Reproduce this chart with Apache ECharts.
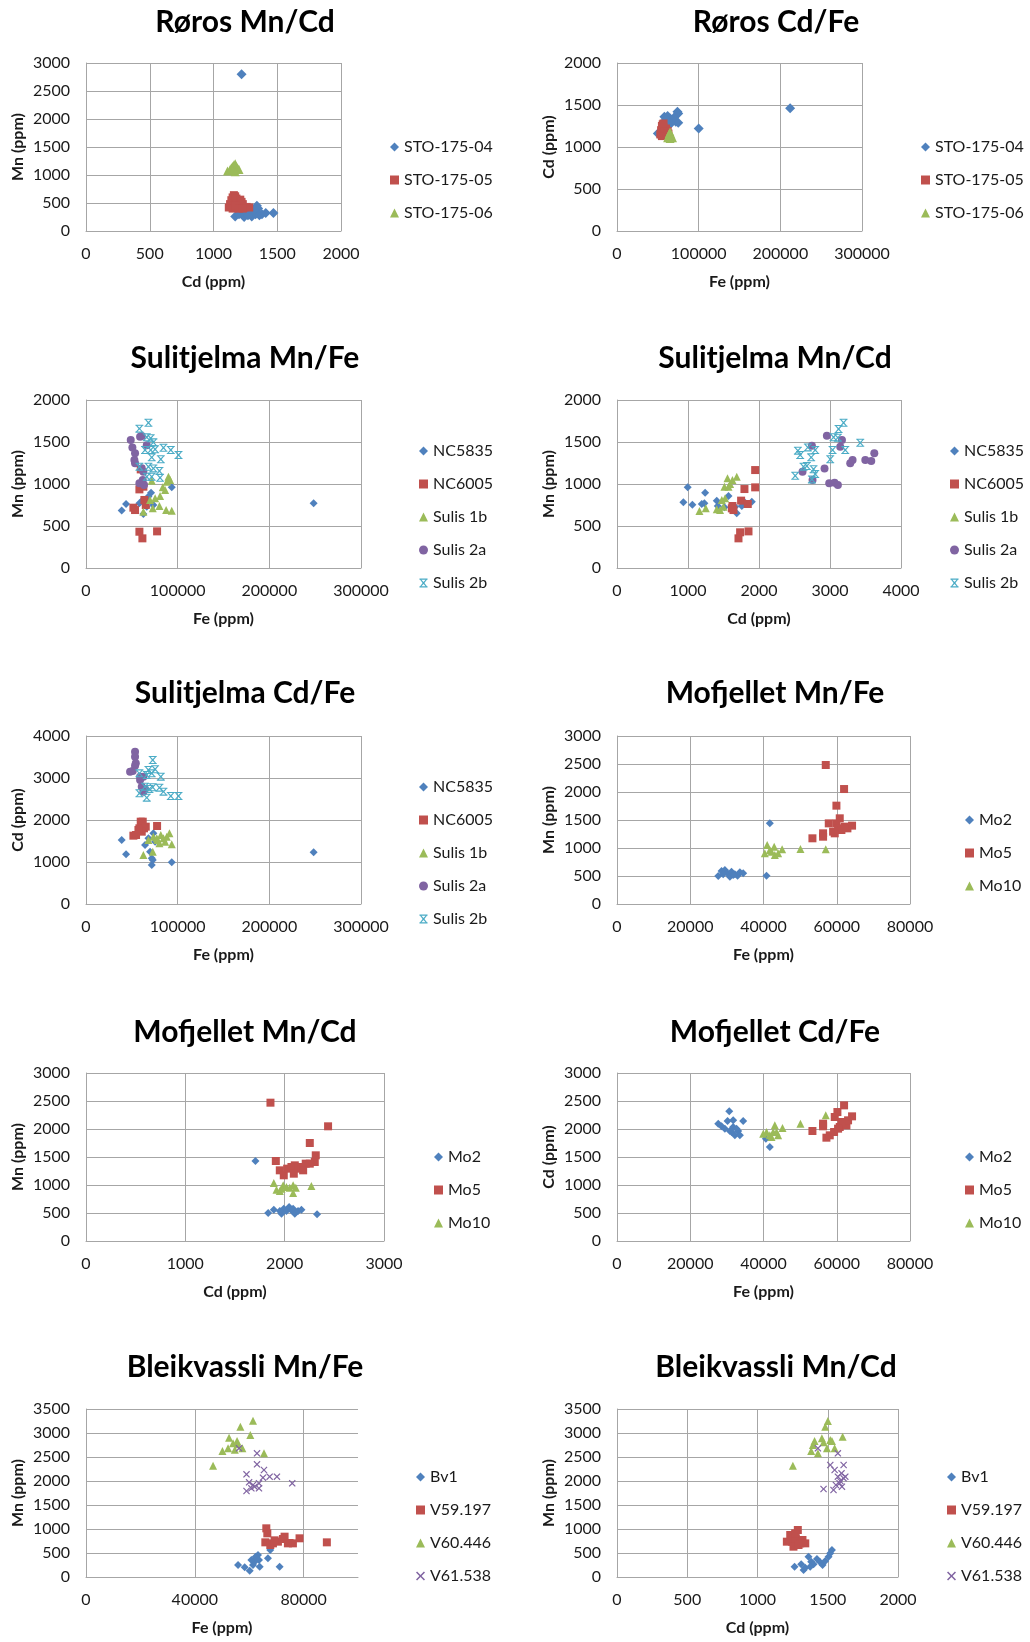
<!DOCTYPE html>
<html><head><meta charset="utf-8">
<script src="https://cdn.jsdelivr.net/npm/echarts@6/dist/echarts.min.js"></script>
<style>html,body{margin:0;padding:0;background:#fff}#c{width:1030px;height:1642px}</style>
</head><body><div id="c"></div>
<script>
// ---------- DATA ----------
// Røros Mn/Cd  [Cd, Mn]
const rorosMnCd_04 = [[1220,2800],[1170,260],[1240,250],[1300,260],[1330,300],[1340,450],[1350,400],[1360,280],[1410,320],[1470,320],[1250,330],[1290,350],[1320,380],[1200,300],[1380,300],[1270,280]];
const rorosMnCd_05 = [[1120,420],[1130,480],[1140,550],[1150,600],[1160,640],[1170,620],[1180,580],[1190,500],[1200,450],[1210,560],[1220,520],[1230,480],[1240,420],[1260,430],[1280,420],[1150,400],[1170,450],[1200,400],[1230,400]];
const rorosMnCd_06 = [[1110,1070],[1130,1100],[1140,1130],[1150,1150],[1160,1180],[1170,1200],[1180,1150],[1190,1120],[1200,1100],[1150,1080],[1170,1060]];
// Røros Cd/Fe  [Fe, Cd]
const rorosCdFe_04 = [[212000,1460],[100000,1220],[50000,1160],[58000,1360],[62000,1370],[65000,1340],[68000,1320],[72000,1300],[74000,1420],[75000,1400],[75000,1290],[70000,1350],[60000,1330],[66000,1280]];
const rorosCdFe_05 = [[53000,1150],[54000,1200],[55000,1250],[56000,1270],[57000,1230],[58000,1180],[59000,1140],[60000,1220],[62000,1190],[63000,1160],[55000,1130],[57000,1280]];
const rorosCdFe_06 = [[62000,1110],[63000,1130],[64000,1160],[65000,1180],[66000,1150],[67000,1120],[68000,1110],[65000,1100]];
// Sulitjelma Mn/Fe  [Fe, Mn]
const sulMnFe_NC5835 = [[38960,686],[43700,762],[248300,770],[58260,770],[62600,643],[66270,730],[71000,897],[73500,750],[93570,960],[61900,810],[68100,850]];
const sulMnFe_NC6005 = [[51700,718],[53500,690],[58260,432],[61530,353],[77550,436],[58260,936],[59700,1174],[63700,810],[65200,750],[62600,968]];
const sulMnFe_1b = [[62600,670],[69900,810],[72800,710],[75400,830],[80100,738],[80800,857],[83700,960],[86300,928],[88100,1028],[89900,1087],[87400,690],[93570,682],[71700,1040],[91750,1048]];
const sulMnFe_2a = [[48800,1524],[50600,1436],[53500,1365],[52800,1286],[53500,1246],[59000,1563],[60800,1571],[66270,1460],[60800,1187],[62600,1147],[58260,1008],[61900,1048],[63300,988]];
const sulMnFe_2b = [[58260,1659],[68100,1730],[66270,1556],[70600,1544],[73500,1496],[64400,1405],[70600,1405],[75400,1413],[84500,1432],[92500,1405],[100900,1345],[71700,1317],[81600,1294],[68100,1206],[73500,1186],[80100,1155],[66270,1087],[71700,1087],[80800,1075],[58260,1206]];
// Sulitjelma Mn/Cd  [Cd, Mn]
const sulMnCd_NC5835 = [[935,782],[996,960],[1062,754],[1194,762],[1231,770],[1241,897],[1405,802],[1419,738],[1570,857],[1513,722],[1687,651],[1758,738],[1899,790],[1805,778],[1664,730]];
const sulMnCd_NC6005 = [[1617,710],[1640,690],[1711,353],[1734,425],[1852,436],[1748,802],[1795,940],[1842,762],[1946,960],[1946,1166],[1626,738]];
const sulMnCd_1b = [[1161,679],[1250,710],[1405,698],[1452,690],[1499,730],[1523,829],[1513,968],[1556,1067],[1593,1000],[1626,1048],[1687,1087],[1476,810],[1570,968]];
const sulMnCd_2a = [[2613,1147],[2745,1456],[2754,1048],[2923,1186],[2956,1575],[2989,1008],[3064,1016],[3111,988],[3168,1524],[3144,1444],[3285,1246],[3318,1286],[3497,1286],[3581,1274],[3624,1365]];
const sulMnCd_2b = [[2510,1099],[2548,1397],[2580,1345],[2627,1206],[2674,1214],[2688,1436],[2735,1317],[2745,1055],[2768,1175],[2792,1119],[2792,1405],[3003,1294],[3036,1405],[3050,1556],[3111,1552],[3121,1655],[3191,1730],[3215,1405],[3426,1492]];
// Sulitjelma Cd/Fe  [Fe, Cd]
const sulCdFe_NC5835 = [[38960,1524],[43700,1183],[248300,1230],[71700,929],[72800,1048],[93570,992],[64400,1405],[69900,1246],[68100,1564],[73500,1683],[75400,1484],[71700,1087]];
const sulCdFe_NC6005 = [[51700,1627],[54600,1643],[58260,1802],[59700,1960],[61900,1960],[63300,1802],[65200,1841],[60800,1722],[77550,1857],[57200,1762]];
const sulCdFe_1b = [[62600,1167],[72800,1246],[68100,1524],[73500,1603],[77900,1524],[81600,1643],[84500,1564],[88100,1603],[91000,1683],[93570,1421],[80100,1445],[86300,1484],[77200,1564]];
const sulCdFe_2a = [[53500,3627],[53500,3508],[54300,3349],[53500,3294],[51000,3167],[48100,3151],[59000,3032],[59000,2953],[62600,3032],[60800,2794],[62600,2675],[64400,2738]];
const sulCdFe_2b = [[72800,3429],[58260,3111],[68100,3191],[75400,3207],[66270,3072],[71700,3111],[81600,3032],[64400,2794],[72800,2778],[80100,2770],[84500,2675],[58260,2635],[66270,2532],[92500,2572],[100900,2572],[69200,2738]];
// Mofjellet Mn/Fe  [Fe, Mn]
const mofMnFe_Mo2 = [[27640,500],[28550,589],[29450,607],[30180,548],[30820,488],[31270,577],[32180,530],[32910,506],[33550,565],[34450,548],[41730,1440],[40820,506],[29000,530],[31730,518]];
const mofMnFe_Mo5 = [[57000,2482],[62000,2053],[59910,1756],[57820,1440],[60820,1530],[53360,1173],[56270,1262],[56270,1202],[59000,1292],[59910,1440],[60360,1351],[61270,1321],[62910,1351],[64180,1399],[59450,1262],[62180,1381]];
const mofMnFe_Mo10 = [[40360,905],[41000,1054],[41730,964],[42910,1024],[43090,875],[44000,905],[45090,976],[50090,982],[57000,976],[42180,934]];
// Mofjellet Mn/Cd  [Cd, Mn]
const mofMnCd_Mo2 = [[1706,1429],[1834,500],[1891,560],[1968,488],[1991,577],[2018,536],[2045,607],[2068,548],[2102,488],[2135,536],[2169,560],[2326,476],[1951,536],[2085,577]];
const mofMnCd_Mo5 = [[1857,2470],[1911,1429],[2437,2048],[2253,1750],[2313,1530],[2303,1411],[1951,1262],[1991,1173],[2025,1292],[2068,1321],[2102,1351],[2135,1292],[2092,1202],[2169,1321],[2212,1381],[2253,1381],[2186,1262]];
const mofMnCd_Mo10 = [[1891,1036],[1918,917],[1951,893],[1985,994],[2018,964],[2051,952],[2085,994],[2112,952],[2085,857],[2269,982],[1968,935]];
// Mofjellet Cd/Fe  [Fe, Cd]
const mofCdFe_Mo2 = [[27640,2095],[28550,2048],[29450,2006],[30640,2315],[30180,2143],[30820,1964],[31730,2155],[31730,2036],[32180,1887],[33090,1964],[33550,1887],[34450,2143],[31270,1946],[32640,2006],[40640,1827],[41730,1678]];
const mofCdFe_Mo5 = [[53360,1964],[56270,2095],[56270,2048],[57180,1845],[58090,1887],[59270,1946],[59450,2214],[60180,2303],[60820,2036],[62000,2422],[61730,2095],[62640,2065],[63090,2155],[64180,2226],[61270,2125],[60360,2006]];
const mofCdFe_Mo10 = [[39910,1917],[40820,1946],[41730,1887],[42640,1946],[43090,2065],[43550,1946],[44000,1887],[45180,2018],[50090,2095],[57000,2244],[42180,1857]];
// Bleikvassli Mn/Fe  [Fe, Mn]
const bleMnFe_Bv1 = [[55900,250],[58340,201],[60170,132],[61400,250],[62620,389],[63230,458],[62000,319],[63850,215],[66900,389],[67750,562],[71180,215],[60800,354],[62370,424],[63600,354]];
const bleMnFe_V59 = [[66290,1014],[66660,910],[65930,722],[67750,667],[68730,701],[70560,736],[72400,792],[73010,840],[74840,708],[76070,701],[78510,806],[88550,722],[69340,764],[74230,701]];
const bleMnFe_V60 = [[46720,2319],[50150,2625],[52230,2680],[52600,2903],[54070,2785],[55540,2833],[55900,2764],[57490,2680],[56760,3132],[60420,2958],[61400,3257],[65430,2576],[54700,2653]];
const bleMnFe_V61 = [[56270,2680],[59010,2139],[59960,1972],[59010,1792],[60800,1847],[61400,1917],[62870,2576],[62870,2347],[63600,1951],[63600,1847],[65430,2229],[65060,2069],[67510,2090],[70200,2090],[75820,1951],[62000,1882]];
// Bleikvassli Mn/Cd  [Cd, Mn]
const bleMnCd_Bv1 = [[1264,215],[1311,264],[1328,146],[1340,194],[1363,424],[1382,319],[1399,264],[1423,375],[1446,306],[1463,250],[1482,333],[1506,424],[1518,493],[1530,562],[1375,215]];
const bleMnCd_V59 = [[1209,736],[1233,875],[1245,736],[1256,632],[1273,806],[1287,979],[1304,701],[1320,771],[1340,701],[1268,910],[1292,667]];
const bleMnCd_V60 = [[1252,2319],[1382,2625],[1394,2750],[1406,2833],[1430,2576],[1458,2889],[1470,2806],[1482,3132],[1501,3250],[1494,2680],[1518,2854],[1549,2680],[1606,2924],[1530,2833]];
const bleMnCd_V61 = [[1430,2680],[1470,1833],[1518,2333],[1541,1812],[1549,2229],[1558,1917],[1572,2090],[1572,2576],[1589,2000],[1601,1882],[1613,2333],[1613,2056],[1625,2090],[1584,1951],[1598,2160]];

const titles = ['Røros Mn/Cd','Røros Cd/Fe','Sulitjelma Mn/Fe','Sulitjelma Mn/Cd','Sulitjelma Cd/Fe','Mofjellet Mn/Fe','Mofjellet Mn/Cd','Mofjellet Cd/Fe','Bleikvassli Mn/Fe','Bleikvassli Mn/Cd'];
const xNames = ['Cd (ppm)','Fe (ppm)','Fe (ppm)','Cd (ppm)','Fe (ppm)','Fe (ppm)','Cd (ppm)','Fe (ppm)','Fe (ppm)','Cd (ppm)'];
const yNames = ['Mn (ppm)','Cd (ppm)','Mn (ppm)','Mn (ppm)','Cd (ppm)','Mn (ppm)','Mn (ppm)','Cd (ppm)','Mn (ppm)','Mn (ppm)'];
const xMax = [2000,300000,300000,4000,300000,80000,3000,80000,100000,2000];
const xInt = [500,100000,100000,1000,100000,20000,1000,20000,40000,500];
const yMax = [3000,2000,2000,2000,4000,3000,3000,3000,3500,3500];
const yInt = [500,500,500,500,1000,500,500,500,500,500];

const rorosNames = ['STO-175-04','STO-175-05','STO-175-06'];
const sulNames = ['NC5835','NC6005','Sulis 1b','Sulis 2a','Sulis 2b'];
const mofNames = ['Mo2','Mo5','Mo10'];
const bleNames = ['Bv1','V59.197','V60.446','V61.538'];

const panelSeries = [
  [rorosMnCd_04, rorosMnCd_05, rorosMnCd_06],
  [rorosCdFe_04, rorosCdFe_05, rorosCdFe_06],
  [sulMnFe_NC5835, sulMnFe_NC6005, sulMnFe_1b, sulMnFe_2a, sulMnFe_2b],
  [sulMnCd_NC5835, sulMnCd_NC6005, sulMnCd_1b, sulMnCd_2a, sulMnCd_2b],
  [sulCdFe_NC5835, sulCdFe_NC6005, sulCdFe_1b, sulCdFe_2a, sulCdFe_2b],
  [mofMnFe_Mo2, mofMnFe_Mo5, mofMnFe_Mo10],
  [mofMnCd_Mo2, mofMnCd_Mo5, mofMnCd_Mo10],
  [mofCdFe_Mo2, mofCdFe_Mo5, mofCdFe_Mo10],
  [bleMnFe_Bv1, bleMnFe_V59, bleMnFe_V60, bleMnFe_V61],
  [bleMnCd_Bv1, bleMnCd_V59, bleMnCd_V60, bleMnCd_V61]
];
const panelNames = [rorosNames, rorosNames, sulNames, sulNames, sulNames, mofNames, mofNames, mofNames, bleNames, bleNames];

// ---------- STYLE / LAYOUT ----------
const BLUE='#4F81BD', RED='#C0504D', GREEN='#9BBB59', PURPLE='#8064A2', CYAN='#4BACC6';
const X_SYM = 'path://M0,1.2L1.2,0L5,3.8L8.8,0L10,1.2L6.2,5L10,8.8L8.8,10L5,6.2L1.2,10L0,8.8L3.8,5Z';
const STAR_SYM = 'path://M0.5,0L9.5,0L9.5,1.3L0.5,1.3Z M0.5,8.7L9.5,8.7L9.5,10L0.5,10Z M1.2,1.3L2.7,1.3L5,3.8L7.3,1.3L8.8,1.3L6,5L8.8,8.7L7.3,8.7L5,6.2L2.7,8.7L1.2,8.7L4,5Z';
const styleByName = {
  'STO-175-04':[BLUE,'diamond',10],'STO-175-05':[RED,'rect',8],'STO-175-06':[GREEN,'triangle',9],
  'NC5835':[BLUE,'diamond',8],'NC6005':[RED,'rect',8],'Sulis 1b':[GREEN,'triangle',8],'Sulis 2a':[PURPLE,'circle',8],'Sulis 2b':[CYAN,STAR_SYM,8],
  'Mo2':[BLUE,'diamond',8],'Mo5':[RED,'rect',8],'Mo10':[GREEN,'triangle',8],
  'Bv1':[BLUE,'diamond',8],'V59.197':[RED,'rect',8],'V60.446':[GREEN,'triangle',8],'V61.538':[PURPLE,X_SYM,7]
};
// grid rects [left, top, width, height]
const grids = [
  [86,63,255,168],[617,63,245,168],
  [86,400,275,168],[617,400,284,168],
  [86,736,275,168],[617,736,293,168],
  [86,1073,298,168],[617,1073,293,168],
  [86,1409,272,168],[617,1409,281,168]
];
const titleCenters = [[245,22],[776,22],[245,358],[775,358],[245,693],[775,693],[245,1032],[775,1032],[245,1367],[776,1367]];
const legendPos = [[385,132],[916,132],[414,436],[945,436],[414,772],[960,805],[429,1142],[960,1142],[411,1462],[942,1462]];

const GRID_C = '#A6A6A6';
const FONT = 'Lato';
const plain = v => String(v);
const option = {
  backgroundColor:'#fff',
  animation:false,
  grid: grids.map(g=>({left:g[0],top:g[1],width:g[2],height:g[3],containLabel:false,outerBoundsMode:'none'})),
  xAxis: grids.map((g,i)=>({
    type:'value', gridIndex:i, min:0, max:xMax[i], interval:xInt[i],
    name:xNames[i], nameLocation:'middle', nameGap:43,
    nameTextStyle:{fontFamily:FONT,fontWeight:'bold',fontSize:16,color:'#1a1a1a'},
    axisLine:{show:true,onZero:false,lineStyle:{color:GRID_C,width:1}},
    axisTick:{show:false},
    axisLabel:{fontFamily:FONT,fontSize:16,color:'#1a1a1a',margin:15,formatter:plain,showMaxLabel: i!==8, showMinLabel:true},
    splitLine:{show:true,showMaxLine: i!==8,lineStyle:{color:GRID_C,width:1}}
  })),
  yAxis: grids.map((g,i)=>({
    type:'value', gridIndex:i, min:0, max:yMax[i], interval:yInt[i],
    name:yNames[i], nameLocation:'middle', nameGap:60, nameRotate:90,
    nameTextStyle:{fontFamily:FONT,fontWeight:'bold',fontSize:16,color:'#1a1a1a'},
    axisLine:{show:true,onZero:false,lineStyle:{color:GRID_C,width:1}},
    axisTick:{show:false},
    axisLabel:{fontFamily:FONT,fontSize:16,color:'#1a1a1a',margin:16,formatter:plain},
    splitLine:{show:true,lineStyle:{color:GRID_C,width:1}}
  })),
  legend: legendPos.map((p,i)=>({
    left:p[0], top:p[1], orient:'vertical', itemGap:13, itemWidth:9, itemHeight:9,
    data: panelNames[i], selectedMode:false,
    textStyle:{fontFamily:FONT,fontSize:16,color:'#1a1a1a',lineHeight:20}
  })),
  graphic: titles.map((t,i)=>({
    type:'text', x:titleCenters[i][0], y:titleCenters[i][1],
    style:{text:t, font:'bold 30px Lato', fill:'#000', textAlign:'center', textVerticalAlign:'middle'}
  })),
  series: []
};
panelSeries.forEach((arr,i)=>{
  arr.forEach((d,k)=>{
    const nm = panelNames[i][k];
    const st = styleByName[nm];
    option.series.push({
      type:'scatter', name:nm, xAxisIndex:i, yAxisIndex:i, data:d,
      symbol:st[1], symbolSize:st[2], itemStyle:{color:st[0],opacity:1},
      emphasis:{disabled:true}
    });
  });
});
const chart = echarts.init(document.getElementById('c'), null, {renderer:'canvas'});
chart.setOption(option);
</script></body></html>
